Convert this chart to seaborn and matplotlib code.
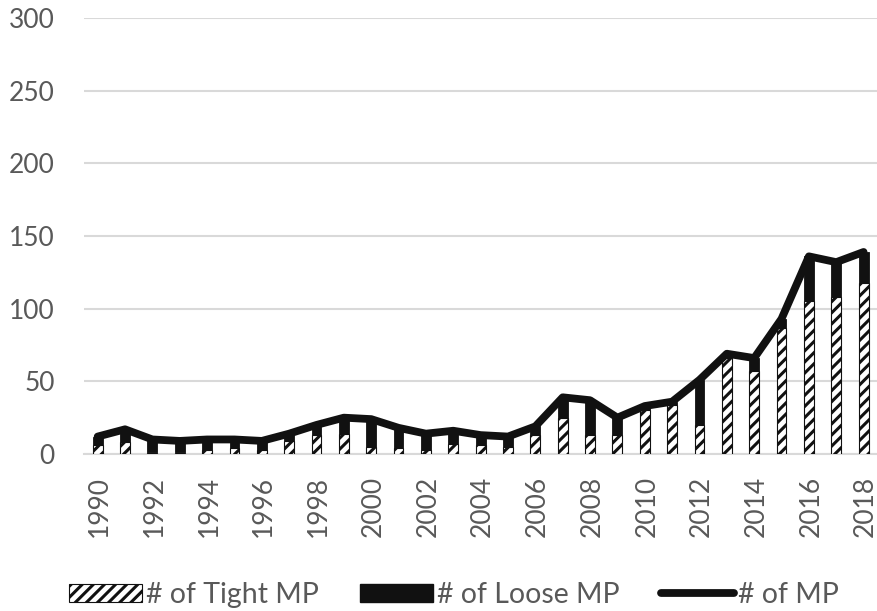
import numpy as np
import pandas as pd
import matplotlib
matplotlib.use("Agg")
import matplotlib.pyplot as plt
from matplotlib.patches import Patch
from matplotlib.lines import Line2D
from matplotlib.transforms import ScaledTranslation
import seaborn as sns

years = list(range(1990, 2019))
total_mp = [12, 17, 10, 9, 10, 10, 9, 14, 20, 25, 24, 18, 14, 16, 13, 12,
            19, 39, 37, 25, 33, 36, 51, 69, 66, 93, 136, 132, 139]
tight_mp = [6, 8, 1, 1, 3, 4, 3, 9, 13, 14, 5, 4, 3, 7, 6, 5,
            13, 25, 13, 13, 30, 34, 20, 66, 57, 87, 105, 108, 118]
loose_mp = [t - s for t, s in zip(total_mp, tight_mp)]
y_ticks = [0, 50, 100, 150, 200, 250, 300]

df = pd.DataFrame({"year": [str(y) for y in years],
                   "tight": tight_mp, "loose": loose_mp, "total": total_mp})
df["stack_top"] = df["tight"] + df["loose"]

sns.set_theme(style="white")
plt.rcParams["font.family"] = ["Lato", "DejaVu Sans"]
plt.rcParams["hatch.linewidth"] = 2.2
grey = "#595959"

W, H = 877, 611
fig = plt.figure(figsize=(W / 100, H / 100), dpi=100)
ax = fig.add_axes([84 / W, 157 / H, (880 - 84) / W, (454 - 18) / H])

bar_w = 0.36
# loose MP stacked on tight MP: black column up to tight + loose
sns.barplot(data=df, x="year", y="stack_top", color="#111111", saturation=1,
            width=bar_w, edgecolor="#111111", linewidth=0.6, ax=ax, zorder=2)
# tight MP: hatched lower segment
sns.barplot(data=df, x="year", y="tight", color="white", saturation=1,
            width=bar_w, edgecolor="#111111", linewidth=0.8, hatch="///",
            ax=ax, zorder=3)
# total MP line
sns.lineplot(x=np.arange(len(years)), y=df["total"], color="#111111",
             linewidth=5.6, ax=ax, zorder=4, sort=False,
             solid_joinstyle="round", solid_capstyle="round")

ax.set_xlim(-0.5, 28.6)
ax.set_ylim(0, 300)
ax.set_yticks(y_ticks)
ax.set_yticklabels([str(v) for v in y_ticks])
ax.set_xticks(range(0, len(years), 2))
ax.set_xticklabels([str(y) for y in years[::2]], rotation=90)
ax.set_xlabel("")
ax.set_ylabel("")
ax.grid(axis="y", color="#d9d9d9", linewidth=1.5, zorder=0)
ax.set_axisbelow(True)
for side in ["top", "right", "left"]:
    ax.spines[side].set_visible(False)
ax.spines["bottom"].set_color("#d9d9d9")
ax.spines["bottom"].set_linewidth(1.5)
ax.tick_params(axis="y", length=0, pad=21, labelsize=19, labelcolor=grey)
ax.tick_params(axis="x", length=0, pad=16, labelsize=19, labelcolor=grey)
shift = ScaledTranslation(0.02, 0, fig.dpi_scale_trans)
for lbl in ax.get_xticklabels():
    lbl.set_transform(lbl.get_transform() + shift)

handles = [
    Patch(facecolor="white", edgecolor="#111111", hatch="///", linewidth=0.8),
    Patch(facecolor="#111111", edgecolor="#111111"),
    Line2D([0], [0], color="#111111", linewidth=5.6, solid_capstyle="round"),
]
labels = ["# of Tight MP", "# of Loose MP", "# of MP"]
fig.legend(handles, labels, loc="center", bbox_to_anchor=(454 / W, 1 - 595 / H),
           ncol=3, frameon=False, fontsize=20.5, labelcolor=grey,
           handlelength=2.55, handleheight=0.6, handletextpad=0.15,
           columnspacing=1.45, borderpad=0)

fig.savefig("out.png", dpi=100)
